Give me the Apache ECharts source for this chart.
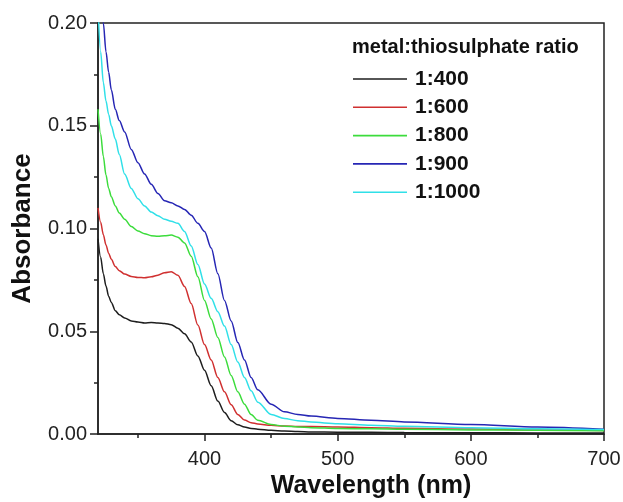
<!DOCTYPE html>
<html>
<head>
<meta charset="utf-8">
<script src="https://cdn.jsdelivr.net/npm/echarts@6/dist/echarts.min.js"></script>
<style>
html,body{margin:0;padding:0;background:#fff;}
#chart{width:623px;height:502px;}
</style>
</head>
<body>
<div id="chart"></div>
<script>
// ---- data ----
const wavelengths = [320,322,324,326,328,330,333,336,340,345,350,355,360,365,370,375,380,385,390,395,400,405,410,415,420,425,430,435,440,450,460,470,480,500,525,550,600,650,700];
const abs400  = [0.095,0.086,0.078,0.072,0.067,0.064,0.060,0.058,0.0565,0.055,0.0545,0.054,0.0542,0.054,0.0538,0.0532,0.0515,0.0488,0.0448,0.038,0.031,0.0235,0.016,0.0105,0.0065,0.0045,0.0034,0.0027,0.0023,0.0018,0.0014,0.0012,0.001,0.0009,0.0008,0.0007,0.0006,0.0005,0.0005];
const abs600  = [0.110,0.103,0.097,0.092,0.088,0.085,0.0815,0.0795,0.0778,0.0767,0.0762,0.076,0.0765,0.0773,0.0785,0.079,0.0772,0.0718,0.0635,0.053,0.0435,0.036,0.0275,0.0205,0.0142,0.0095,0.0068,0.0055,0.0049,0.0042,0.0039,0.0037,0.0036,0.0034,0.0031,0.0028,0.0024,0.002,0.0017];
const abs800  = [0.158,0.146,0.135,0.126,0.1195,0.1155,0.111,0.1075,0.1045,0.101,0.0988,0.0975,0.0965,0.0962,0.0965,0.0968,0.0958,0.093,0.0865,0.0765,0.065,0.056,0.047,0.0375,0.0285,0.0205,0.0145,0.0095,0.0067,0.0046,0.0038,0.0034,0.0031,0.0027,0.0025,0.0023,0.002,0.0018,0.0016];
const abs900  = [0.225,0.212,0.200,0.186,0.176,0.1675,0.158,0.1525,0.147,0.1385,0.132,0.1265,0.1215,0.117,0.1135,0.1125,0.111,0.1093,0.1065,0.1025,0.0985,0.0905,0.078,0.065,0.055,0.0445,0.036,0.0275,0.0215,0.0145,0.0108,0.0095,0.0087,0.0076,0.0067,0.0059,0.0046,0.0034,0.0023];
const abs1000 = [0.208,0.186,0.171,0.162,0.1555,0.150,0.1435,0.136,0.1265,0.1195,0.1145,0.111,0.108,0.1062,0.1045,0.1035,0.1025,0.0985,0.0915,0.0825,0.073,0.066,0.0595,0.0525,0.0435,0.035,0.0275,0.021,0.0155,0.0095,0.0075,0.0065,0.0058,0.005,0.0043,0.0038,0.0031,0.0026,0.0022];
const seriesNames = ['1:400','1:600','1:800','1:900','1:1000'];
const seriesColors = ['#1e1e1e','#d03030','#3cdc3c','#2626b4','#30e0e8'];
const xMajorTicks = [400,500,600,700];
const xMinorTicks = [350,450,550,650];
const legendTitle = 'metal:thiosulphate ratio';
const xTitle = 'Wavelength (nm)';
const yTitle = 'Absorbance';

const seriesValues = [abs400, abs600, abs800, abs900, abs1000];
const FONT = "'Liberation Sans', Arial, sans-serif";
const AXIS_COLOR = '#222';

const chart = echarts.init(document.getElementById('chart'), null, {renderer:'canvas'});
const series = seriesValues.map((vals, i) => ({
  name: seriesNames[i],
  type: 'line',
  xAxisIndex: 0,
  yAxisIndex: 0,
  data: wavelengths.map((w, j) => [w, vals[j]]),
  symbol: 'none',
  showSymbol: false,
  smooth: 0.3,
  smoothMonotone: 'x',
  clip: true,
  lineStyle: {color: seriesColors[i], width: 1.5},
  itemStyle: {color: seriesColors[i]},
  animation: false
}));

chart.setOption({
  animation: false,
  backgroundColor: '#fff',
  title: {
    text: legendTitle,
    left: 352, top: 36, padding: 0,
    textStyle: {fontFamily: FONT, fontWeight: 'bold', fontSize: 20, color: '#111', lineHeight: 22}
  },
  legend: {
    orient: 'vertical',
    left: 353, top: 68,
    icon: 'rect',
    itemWidth: 54, itemHeight: 1.6, itemGap: 6.3,
    padding: 0,
    textStyle: {fontFamily: FONT, fontWeight: 'bold', fontSize: 21, color: '#111', lineHeight: 22, padding: [0,0,0,3]},
    data: seriesNames
  },
  grid: {
    left: 98, right: 19, top: 23, bottom: 68,
    show: true, borderColor: AXIS_COLOR, borderWidth: 1.5, backgroundColor: 'transparent',
    containLabel: false,
    outerBoundsMode: 'none'
  },
  xAxis: [{
    type: 'value', min: 320, max: 700,
    position: 'bottom',
    axisLine: {show: true, lineStyle: {color: AXIS_COLOR, width: 1.5}},
    axisTick: {show: true, inside: false, length: 7, customValues: xMajorTicks, lineStyle: {color: AXIS_COLOR, width: 1.5}},
    axisLabel: {customValues: xMajorTicks, margin: 15, fontFamily: FONT, fontSize: 20, color: AXIS_COLOR},
    splitLine: {show: false},
    name: xTitle, nameLocation: 'middle', nameGap: 36,
    nameTextStyle: {fontFamily: FONT, fontWeight: 'bold', fontSize: 25, color: '#111', padding: [0,0,0,40]}
  },{
    type: 'value', min: 320, max: 700,
    position: 'bottom',
    axisLine: {show: false},
    axisTick: {show: true, inside: false, length: 4, customValues: xMinorTicks, lineStyle: {color: AXIS_COLOR, width: 1.5}},
    axisLabel: {show: false},
    splitLine: {show: false}
  }],
  yAxis: {
    type: 'value', min: 0, max: 0.2, interval: 0.05,
    axisLine: {show: true, lineStyle: {color: AXIS_COLOR, width: 1.5}},
    axisTick: {show: true, inside: false, length: 8, lineStyle: {color: AXIS_COLOR, width: 1.5}},
    minorTick: {show: true, splitNumber: 2, length: 4, lineStyle: {color: AXIS_COLOR, width: 1.5}},
    axisLabel: {margin: 11, fontFamily: FONT, fontSize: 20, color: AXIS_COLOR, formatter: v => v.toFixed(2)},
    splitLine: {show: false},
    minorSplitLine: {show: false},
    name: yTitle, nameLocation: 'middle', nameGap: 62, nameRotate: 90,
    nameTextStyle: {fontFamily: FONT, fontWeight: 'bold', fontSize: 26, color: '#111'}
  },
  series: series
});
</script>
</body>
</html>
